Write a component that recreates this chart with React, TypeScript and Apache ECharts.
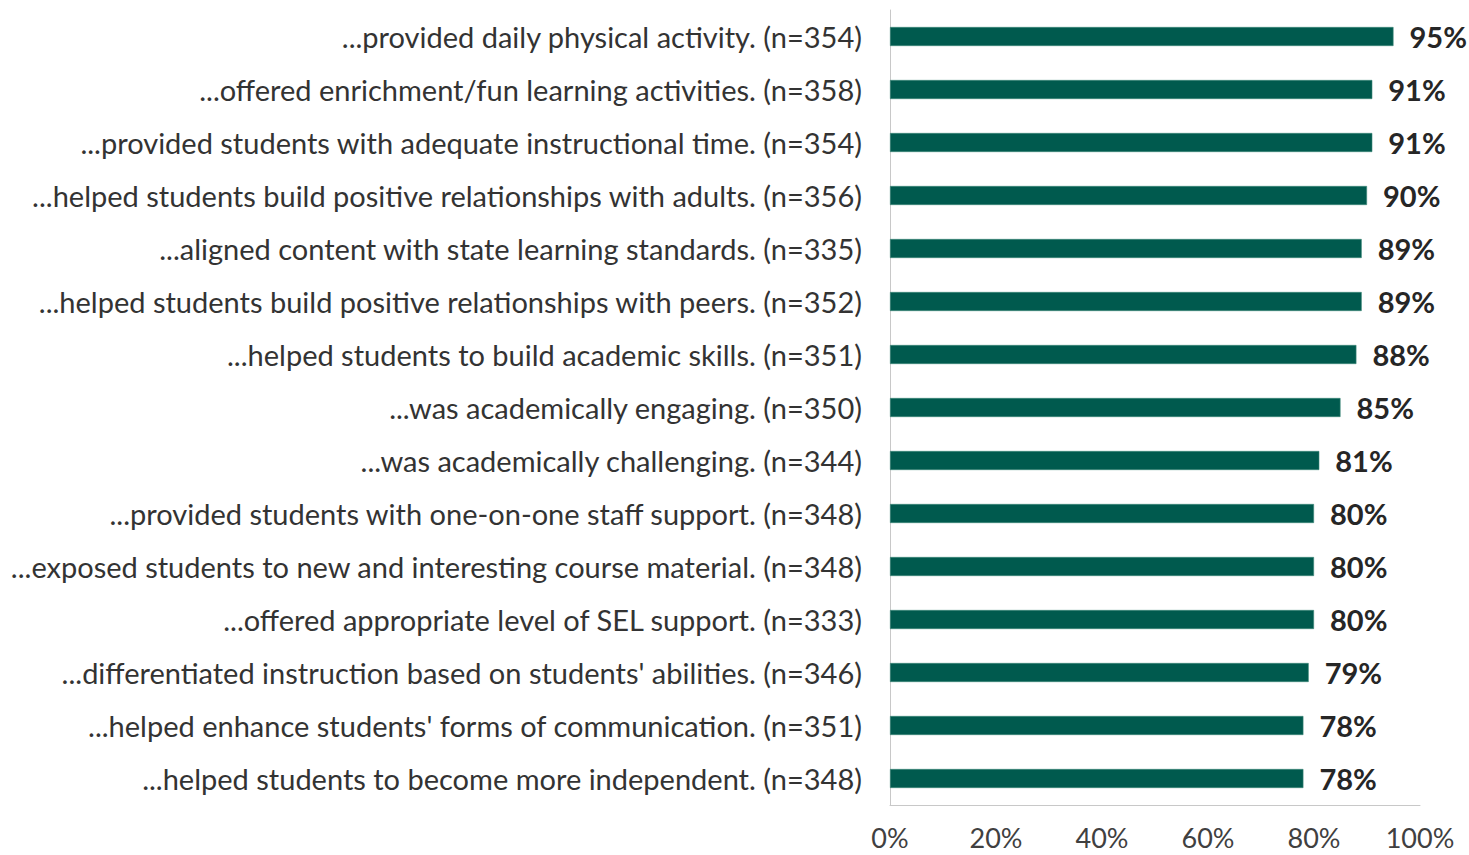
import React, { useEffect, useRef } from "react";
import * as echarts from "echarts";

const categories = [
  "...provided daily physical activity. (n=354)",
  "...offered enrichment/fun learning activities. (n=358)",
  "...provided students with adequate instructional time. (n=354)",
  "...helped students build positive relationships with adults. (n=356)",
  "...aligned content with state learning standards. (n=335)",
  "...helped students build positive relationships with peers. (n=352)",
  "...helped students to build academic skills. (n=351)",
  "...was academically engaging. (n=350)",
  "...was academically challenging. (n=344)",
  "...provided students with one-on-one staff support. (n=348)",
  "...exposed students to new and interesting course material. (n=348)",
  "...offered appropriate level of SEL support. (n=333)",
  "...differentiated instruction based on students' abilities. (n=346)",
  "...helped enhance students' forms of communication. (n=351)",
  "...helped students to become more independent. (n=348)",
];

const values = [95, 91, 91, 90, 89, 89, 88, 85, 81, 80, 80, 80, 79, 78, 78];

const xTicks = [0, 20, 40, 60, 80, 100];

export default function App() {
  const ref = useRef<HTMLDivElement>(null);
  useEffect(() => {
    if (!ref.current) return;
    const chart = echarts.init(ref.current, undefined, { renderer: "svg" });
    chart.setOption({
      animation: false,
      textStyle: { fontFamily: "Lato" },
      grid: { left: 890, right: 49, top: 10, bottom: 50, containLabel: false },
      xAxis: {
        type: "value",
        min: 0,
        max: 100,
        interval: 20,
        splitLine: { show: false },
        axisLine: { show: true, lineStyle: { color: "#C8C8C8", width: 1 } },
        axisTick: { show: false },
        axisLabel: {
          margin: 19,
          fontSize: 27,
          color: "#404040",
          fontFamily: "Lato",
          formatter: (v: number) => (xTicks.includes(v) ? v + "%" : ""),
        },
      },
      yAxis: {
        type: "category",
        inverse: true,
        data: categories,
        axisLine: { show: true, lineStyle: { color: "#C8C8C8", width: 1 } },
        axisTick: { show: false },
        axisLabel: {
          margin: 28,
          fontSize: 29,
          color: "#333333",
          fontFamily: "Lato",
        },
      },
      series: [
        {
          type: "bar",
          data: values,
          barWidth: 19,
          itemStyle: { color: "#005A4E", borderColor: "#3C8878", borderWidth: 0.6 },
          label: {
            show: true,
            position: "right",
            distance: 16,
            fontSize: 29,
            fontWeight: "bold",
            color: "#262626",
            fontFamily: "Lato",
            formatter: (p: any) => p.value + "%",
          },
        },
      ],
    });
    return () => chart.dispose();
  }, []);
  return <div ref={ref} style={{ width: 1469, height: 855, position: "absolute", left: 0, top: 0 }} />;
}
